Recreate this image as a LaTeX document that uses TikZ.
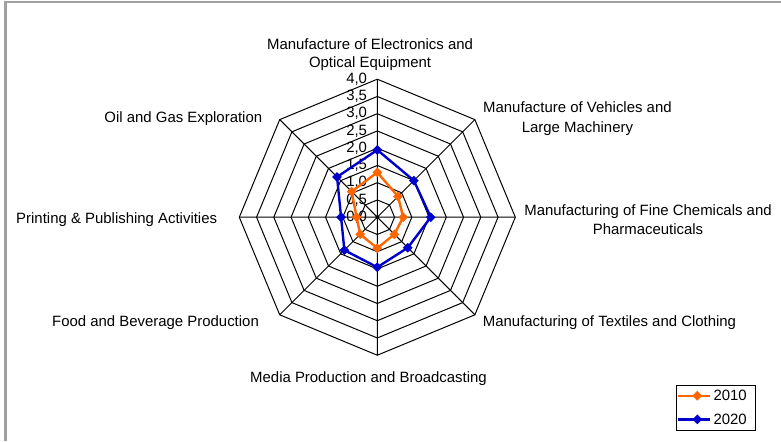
\documentclass[tikz,border=0pt]{standalone}
\usepackage{fontspec}
\setmainfont{Liberation Sans}
\usepackage{xcolor}
\definecolor{line-orange}{RGB}{255,102,0}
\definecolor{line-blue}{RGB}{0,0,204}
\definecolor{frame-gray}{RGB}{160,160,160}
\usepackage{tikz}
\usetikzlibrary{shapes.geometric,calc}

\begin{document}
\begin{tikzpicture}[x=25.875pt,y=25.875pt,
	font=\fontsize{11.2}{14.5}\selectfont,
	grid/.style={black,line width=.75pt},
	series 2010/.style={line-orange,line width=1.8pt,line join=round},
	series 2020/.style={line-blue,line width=1.8pt,line join=round},
	mark 2010/.style={diamond,fill=line-orange,inner sep=0pt,minimum size=7.5pt},
	mark 2020/.style={diamond,fill=line-blue,inner sep=0pt,minimum size=7.5pt},
	axis label/.style={align=center,inner sep=0pt},
	]
	\useasboundingbox (-10.936,-6.487) rectangle (11.701,6.296);
	\draw[frame-gray,line width=2pt] (-10.777,-6.487) -- (-10.777,6.238) -- (11.701,6.238);
	
	\coordinate (C) at (0,0);
	\coordinate (A1) at (90:4);
	\coordinate (A2) at (45:4);
	\coordinate (A3) at (0:4);
	\coordinate (A4) at (-45:4);
	\coordinate (A5) at (-90:4);
	\coordinate (A6) at (-135:4);
	\coordinate (A7) at (180:4);
	\coordinate (A8) at (135:4);
	
	% rings, one every 0.5
	\foreach \r in {0.5,1,1.5,2,2.5,3,3.5,4}
	\draw[grid] (90:\r)--(45:\r)--(0:\r)--(-45:\r)--(-90:\r)--(-135:\r)--(180:\r)--(135:\r)--cycle;
	
	\draw[grid] (C)--(A1) (C)--(A2) (C)--(A3) (C)--(A4)
	(C)--(A5) (C)--(A6) (C)--(A7) (C)--(A8);
	
	\path
	(-.29,0) node[anchor=east,inner sep=0pt] (t0) {0,0}
	(-.29,.5) node[anchor=east,inner sep=0pt] (t1) {0,5}
	(-.29,1) node[anchor=east,inner sep=0pt] (t2) {1,0}
	(-.29,1.5) node[anchor=east,inner sep=0pt] (t3) {1,5}
	(-.29,2) node[anchor=east,inner sep=0pt] (t4) {2,0}
	(-.29,2.5) node[anchor=east,inner sep=0pt] (t5) {2,5}
	(-.29,3) node[anchor=east,inner sep=0pt] (t6) {3,0}
	(-.29,3.5) node[anchor=east,inner sep=0pt] (t7) {3,5}
	(-.29,4) node[anchor=east,inner sep=0pt] (t8) {4,0};
	
%	================================================
	\node[axis label,font=\fontsize{11.2}{13.3}\selectfont] (lab1) at (-.21,4.71) {Manufacture of Electronics and\\Optical Equipment};
	\node[axis label] (lab2) at (5.80,2.86) {Manufacture of Vehicles and\\Large Machinery};
	\node[axis label] (lab3) at (7.846,-.08) {Manufacturing of Fine Chemicals and\\Pharmaceuticals};
	\node[axis label] (lab4) at (6.73,-3.07) {Manufacturing of Textiles and Clothing};
	\node[axis label] (lab5) at (-.255,-4.69) {Media Production and Broadcasting};
	\node[axis label] (lab6) at (-6.429,-3.07) {Food and Beverage Production};
	\node[axis label] (lab7) at (-7.554,-.074) {Printing \& Publishing Activities};
	\node[axis label] (lab8) at (-5.623,2.853) {Oil and Gas Exploration};
	
%	================================================
	\coordinate (O1) at (90:1.3);
	\coordinate (O2) at (45:.85);
	\coordinate (O3) at (0:.75);
	\coordinate (O4) at (-45:.7);
	\coordinate (O5) at (-90:.9);
	\coordinate (O6) at (-135:.7);
	\coordinate (O7) at (180:.6);
	\coordinate (O8) at (135:1.05);
	
	\coordinate (B1) at (90:1.95);
	\coordinate (B2) at (45:1.5);
	\coordinate (B3) at (0:1.55);
	\coordinate (B4) at (-45:1.25);
	\coordinate (B5) at (-90:1.45);
	\coordinate (B6) at (-135:1.35);
	\coordinate (B7) at (180:1.05);
	\coordinate (B8) at (135:1.65);
	
	\draw[series 2010] (O1)--(O2)--(O3)--(O4)--(O5)--(O6)--(O7)--(O8)--cycle;
	\draw[series 2020] (B1)--(B2)--(B3)--(B4)--(B5)--(B6)--(B7)--(B8)--cycle;
	
	\node[mark 2010] (om1) at (O1) {}; \node[mark 2010] (om2) at (O2) {};
	\node[mark 2010] (om3) at (O3) {}; \node[mark 2010] (om4) at (O4) {};
	\node[mark 2010] (om5) at (O5) {}; \node[mark 2010] (om6) at (O6) {};
	\node[mark 2010] (om7) at (O7) {}; \node[mark 2010] (om8) at (O8) {};
	
	\node[mark 2020] (bm1) at (B1) {}; \node[mark 2020] (bm2) at (B2) {};
	\node[mark 2020] (bm3) at (B3) {}; \node[mark 2020] (bm4) at (B4) {};
	\node[mark 2020] (bm5) at (B5) {}; \node[mark 2020] (bm6) at (B6) {};
	\node[mark 2020] (bm7) at (B7) {}; \node[mark 2020] (bm8) at (B8) {};
	
%	================================================ legend
	\draw[black,line width=.75pt] (8.678,-4.864) rectangle (10.96,-6.168);
	
	\coordinate (L1a) at (8.72,-5.174);
	\coordinate (L1b) at (9.646,-5.174);
	\coordinate (L2a) at (8.72,-5.858);
	\coordinate (L2b) at (9.646,-5.858);
	
	\draw[series 2010] (L1a)--(L1b);
	\draw[series 2020] (L2a)--(L2b);
	\node[mark 2010] (lm1) at ($(L1a)!.6!(L1b)$) {};
	\node[mark 2020] (lm2) at ($(L2a)!.6!(L2b)$) {};
	\node[anchor=west,inner sep=0pt] (leg1) at (9.739,-5.174) {2010};
	\node[anchor=west,inner sep=0pt] (leg2) at (9.739,-5.858) {2020};
	
\end{tikzpicture}
\end{document}
